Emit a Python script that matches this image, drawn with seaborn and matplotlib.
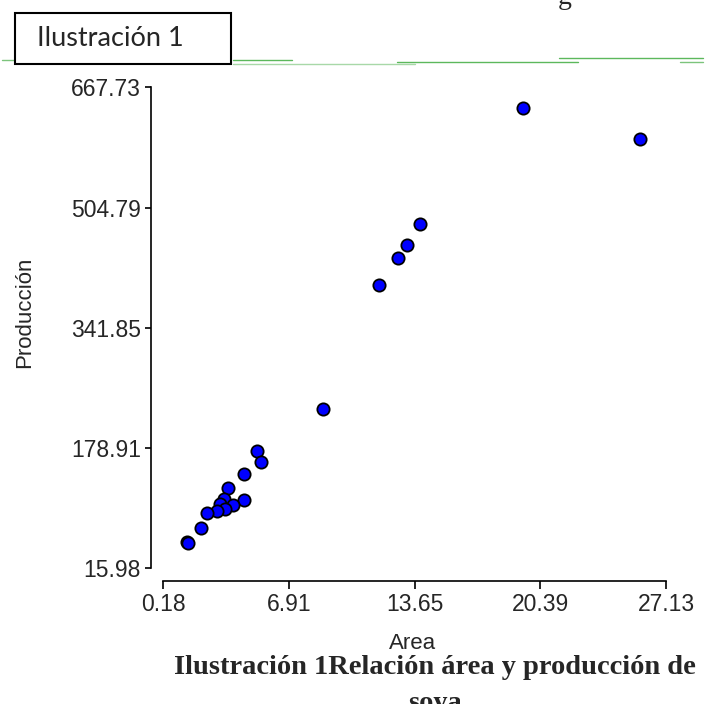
import matplotlib
matplotlib.use("Agg")
import matplotlib.pyplot as plt
from matplotlib.patches import Rectangle
from matplotlib.lines import Line2D
import seaborn as sns
import pandas as pd

# Soybean plots: cultivated area vs. production
area = [19.44, 25.74, 13.93, 13.23, 12.76, 11.73, 8.76, 5.19, 5.42, 4.51,
        3.66, 3.45, 4.51, 3.93, 3.24, 3.49, 3.04, 2.54, 2.19, 1.43, 1.48]
produccion = [639.6, 597.6, 482.4, 454.3, 437.1, 400.6, 231.7, 175.6, 160.3, 144.4,
              125.5, 110.6, 108.4, 102.0, 103.0, 96.2, 93.9, 91.2, 71.3, 52.3, 50.5]

x_ticks = [0.18, 6.91, 13.65, 20.39, 27.13]
y_ticks = [15.98, 178.91, 341.85, 504.79, 667.73]

df = pd.DataFrame({"Area": area, "Producción": produccion})

sns.set_style("white")
plt.rcParams["font.family"] = ["Liberation Sans", "DejaVu Sans"]

W, H = 707, 704
fig = plt.figure(figsize=(W / 100, H / 100), dpi=100)

# axes box in pixels (from top-left)
L, R, T, B = 155, 675, 80, 575
ax = fig.add_axes([L / W, 1 - B / H, (R - L) / W, (B - T) / H])

sns.scatterplot(data=df, x="Area", y="Producción", ax=ax, s=78,
                color="#0000FF", edgecolor="black", linewidth=1.3, zorder=3)

ax.set_xlim(-0.265, 27.61)
ax.set_ylim(7.17, 677.89)
ax.set_xticks(x_ticks)
ax.set_yticks(y_ticks)
ax.set_xticklabels([f"{v:.2f}" for v in x_ticks])
ax.set_yticklabels([f"{v:.2f}" for v in y_ticks])

for side in ["top", "right"]:
    ax.spines[side].set_visible(False)
ax.spines["left"].set_position(("outward", 2.9))
ax.spines["bottom"].set_position(("outward", 4.3))
ax.spines["left"].set_bounds(y_ticks[0], y_ticks[-1])
ax.spines["bottom"].set_bounds(x_ticks[0], x_ticks[-1])
for side in ["left", "bottom"]:
    ax.spines[side].set_color("black")
    ax.spines[side].set_linewidth(1.2)

ax.tick_params(axis="y", direction="out", length=4.3, width=1.2, color="black",
               labelsize=16.5, pad=3, left=True)
ax.tick_params(axis="x", direction="out", length=6, width=1.2, color="black",
               labelsize=16.5, pad=3, bottom=True)

ax.set_xlabel("Area", fontsize=16)
ax.set_ylabel("Producción", fontsize=16)
ax.xaxis.set_label_coords((413 - L) / (R - L), (B - 633) / (B - T))
ax.yaxis.set_label_coords((35 - L) / (R - L), (B - 312) / (B - T))

# caption block covering the lower margin
fig.patches.append(Rectangle((0, 0), 1, 1 - 651 / H, transform=fig.transFigure,
                             facecolor="white", edgecolor="none", zorder=5))
fig.text(435 / W, 1 - 668 / H, "Ilustración 1Relación área y producción de",
         family=["Liberation Serif", "DejaVu Serif"], weight="bold",
         fontsize=20.5, ha="center", va="center", zorder=6)
fig.text(435 / W, 1 - 703 / H, "soya",
         family=["Liberation Serif", "DejaVu Serif"], weight="bold",
         fontsize=20.5, ha="center", va="center", zorder=6)

# heading box
fig.patches.append(Rectangle((15 / W, 1 - 64 / H), (231 - 15) / W, (64 - 13) / H,
                             transform=fig.transFigure, facecolor="white",
                             edgecolor="black", linewidth=1.5, zorder=6))
fig.text(37 / W, 1 - 39 / H, "Ilustración 1", family=["Lato", "DejaVu Sans"],
         fontsize=19.5, ha="left", va="center", zorder=7)

# thin green rules along the top
for x0, x1, y, c in [(2, 15, 60, "#7cc47c"), (233, 292, 60, "#5cb85c"),
                     (233, 415, 64, "#a8d8a8"), (397, 578, 61.5, "#5cb85c"),
                     (559, 703, 58, "#5cb85c"), (680, 703, 62, "#7cc47c")]:
    fig.lines.append(Line2D([x0 / W, x1 / W], [1 - y / H, 1 - y / H],
                            transform=fig.transFigure, color=c, linewidth=1.0,
                            zorder=4))

fig.text(565 / W, 1 - 4 / H, "g", family=["Liberation Serif", "DejaVu Serif"],
         fontsize=20, ha="center", va="baseline")

fig.savefig("out.png", dpi=100)
